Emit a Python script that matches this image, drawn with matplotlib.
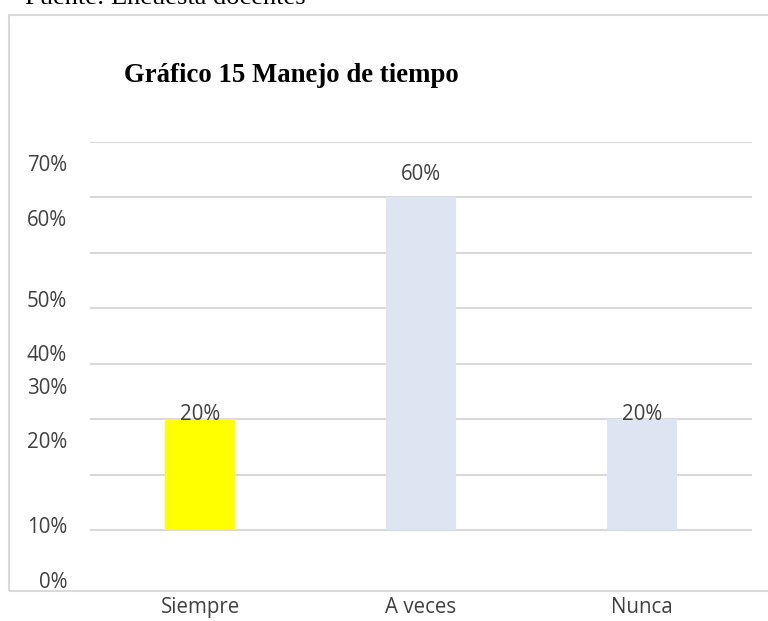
import matplotlib
matplotlib.use("Agg")
import matplotlib.pyplot as plt
from matplotlib.patches import Rectangle

categories = ["Siempre", "A veces", "Nunca"]
values = [0.20, 0.60, 0.20]
value_labels = ["20%", "60%", "20%"]
tick_labels = ["70%", "60%", "50%", "40%", "30%", "20%", "10%", "0%"]
# vertical positions (data units) at which the tick labels appear in the source
tick_label_pos = [0.662, 0.563, 0.417, 0.319, 0.260, 0.162, 0.009, -0.090]
grid_levels = [0.0, 0.1, 0.2, 0.3, 0.4, 0.5, 0.6, 0.7]
bar_colors = ["#FFFF00", "#DEE5F2", "#DEE5F2"]
label_offsets = [-0.002, 0.032, -0.002]  # style: gap between bar top and its label

W, H = 768, 621
fig = plt.figure(figsize=(W / 100, H / 100), dpi=100)

# outer frame
fig.patches.append(Rectangle((9 / W, (H - 591) / H), (W + 20 - 9) / W, (591 - 15) / H,
                             transform=fig.transFigure, fill=False,
                             edgecolor="#D9D9D9", linewidth=1.5, clip_on=False))

ax_bottom_px = 585.4
ax_top_px = 142.0
ax = fig.add_axes([90 / W, (H - ax_bottom_px) / H, (752 - 90) / W, (ax_bottom_px - ax_top_px) / H])
ax.set_xlim(-0.5, 2.5)
ax.set_ylim(-0.1, 0.7)
ax.patch.set_alpha(0)
for s in ax.spines.values():
    s.set_visible(False)

for g in grid_levels:
    ax.axhline(g, color="#D9D9D9", linewidth=1.5, zorder=0)

x = list(range(len(categories)))
ax.bar(x, values, width=0.317, color=bar_colors, zorder=2)

FONT = "Open Sans"
FS = 14.8
for xi, v, lab, off in zip(x, values, value_labels, label_offsets):
    ax.text(xi, v + off, lab, ha="center", va="baseline", fontsize=FS,
            family=FONT, color="#404040", zorder=3)

ax.set_yticks(tick_label_pos)
ax.set_yticklabels(tick_labels, family=FONT, fontsize=FS, color="#404040")
ax.tick_params(axis="y", length=0, pad=16.5)
ax.set_xticks(x)
ax.set_xticklabels(categories, family=FONT, fontsize=FS, color="#404040")
ax.tick_params(axis="x", length=0, pad=8.5)

fig.text(124 / W, (H - 75) / H, "Gráfico 15 Manejo de tiempo", ha="left", va="center",
         family="Liberation Serif", fontweight="bold", fontsize=19.3, color="black")
fig.text(25 / W, (H - 4) / H, "Fuente: Encuesta docentes", ha="left", va="baseline",
         family="Liberation Serif", fontsize=19, color="black")

fig.savefig("out.png", dpi=100)
